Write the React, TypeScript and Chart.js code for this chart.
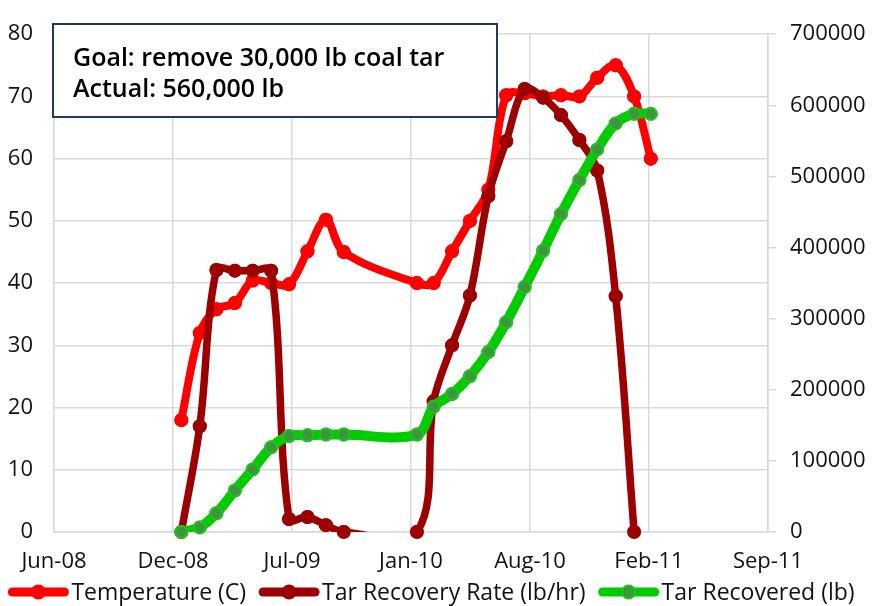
import { useEffect, useRef } from "react";
import { Chart, registerables } from "chart.js";

Chart.register(...registerables);

// x axis: days counted from 1 Jun 2008, major unit 200 days
const AXIS_START = Date.UTC(2008, 5, 1);
const DAY_MS = 86400000;
const dayOf = (iso: string) =>
  Math.round((Date.parse(iso + "T00:00:00Z") - AXIS_START) / DAY_MS);

const xTickLabels = ["Jun-08", "Dec-08", "Jul-09", "Jan-10", "Aug-10", "Feb-11", "Sep-11"];

const sampleDates = [
  "2009-01-01", "2009-02-01", "2009-03-01", "2009-04-01", "2009-05-01",
  "2009-06-01", "2009-07-01", "2009-08-01", "2009-09-01", "2009-10-01",
  "2010-02-01", "2010-03-01", "2010-04-01", "2010-05-01", "2010-06-01",
  "2010-07-01", "2010-08-01", "2010-09-01", "2010-10-01", "2010-11-01",
  "2010-12-01", "2011-01-01", "2011-02-01", "2011-03-01",
];

const temperatureC = [
  18, 32, 35.8, 36.8, 40.4, 40, 39.8, 45.1, 50.2, 45,
  40, 40, 45.1, 50, 55, 70.2, 70.5, 70, 70.2, 70,
  73, 75, 70, 60,
];

const tarRecoveryRate = [
  0, 17, 42.1, 42, 42, 42, 2.1, 2.4, 1.1, 0,
  0, 21, 30, 38, 54, 62.8, 71.2, 69.8, 67, 63,
  58.1, 37.9, 0, null,
];

const tarRecovered = [
  0, 6400, 26400, 58400, 88000, 119000, 135000, 136000, 137000, 137000,
  137000, 176000, 194000, 219000, 253000, 295000, 344500, 395500, 447000, 495000,
  538000, 574600, 588000, 588000,
];

const seriesLabels = ["Temperature (C)", "Tar Recovery Rate (lb/hr)", "Tar Recovered (lb)"];
const noteLines = ["Goal: remove 30,000 lb coal tar", "Actual: 560,000 lb"];

const FONT = "'Open Sans', 'Liberation Sans', sans-serif";
const GRID = "#d9d9d9";

const toPoints = (vals: (number | null)[]) =>
  sampleDates.map((d, i) => ({ x: dayOf(d), y: vals[i] }));

const pointRedraw = {
  id: "pointRedraw",
  afterDatasetDraw(chart: any, args: any) {
    const ctx = chart.ctx;
    args.meta.data.forEach((p: any) => p.draw(ctx));
  },
};

const noteBox = {
  id: "noteBox",
  afterDatasetsDraw(chart: any) {
    const ctx = chart.ctx;
    ctx.save();
    ctx.fillStyle = "#ffffff";
    ctx.fillRect(53, 24, 444, 93);
    ctx.strokeStyle = "#1f3a5f";
    ctx.lineWidth = 2;
    ctx.strokeRect(53, 24, 444, 93);
    ctx.fillStyle = "#000000";
    ctx.font = `600 25px ${FONT}`;
    ctx.textBaseline = "alphabetic";
    ctx.textAlign = "left";
    ctx.fillText(noteLines[0], 73, 66);
    ctx.fillText(noteLines[1], 73, 97);
    ctx.restore();
  },
};

const bottomLegend = {
  id: "bottomLegend",
  afterDraw(chart: any) {
    const ctx = chart.ctx;
    ctx.save();
    ctx.font = `23px ${FONT}`;
    const dss = chart.data.datasets;
    const markW = 62;
    const gapText = 2;
    const gapItem = 12;
    const widths = dss.map((ds: any) => markW + gapText + ctx.measureText(ds.label).width);
    const total = widths.reduce((a: number, b: number) => a + b, 0) + gapItem * (dss.length - 1);
    let x = 431 - total / 2;
    const y = 592;
    dss.forEach((ds: any, i: number) => {
      ctx.strokeStyle = ds.borderColor;
      ctx.lineWidth = 9;
      ctx.lineCap = "round";
      ctx.beginPath();
      ctx.moveTo(x + 5, y);
      ctx.lineTo(x + markW - 5, y);
      ctx.stroke();
      ctx.beginPath();
      ctx.arc(x + markW / 2, y, 6.5, 0, Math.PI * 2);
      ctx.fillStyle = ds.pointBackgroundColor;
      ctx.fill();
      ctx.lineWidth = 2;
      ctx.strokeStyle = ds.pointBorderColor;
      ctx.stroke();
      ctx.fillStyle = "#111111";
      ctx.textBaseline = "middle";
      ctx.textAlign = "left";
      ctx.fillText(ds.label, x + markW + gapText, y + 1);
      x += widths[i] + gapItem;
    });
    ctx.restore();
  },
};

export default function App() {
  const ref = useRef<HTMLCanvasElement | null>(null);

  useEffect(() => {
    if (!ref.current) return;
    const chart = new Chart(ref.current, {
      type: "line",
      data: {
        datasets: [
          {
            label: seriesLabels[0],
            data: toPoints(temperatureC),
            yAxisID: "y",
            borderColor: "#ff0000",
            backgroundColor: "#ff0000",
            pointBackgroundColor: "#ff0000",
            pointBorderColor: "#ff0000",
            borderWidth: 8,
            pointRadius: 6,
            pointBorderWidth: 2,
            tension: 0.35,
            order: 3,
          },
          {
            label: seriesLabels[1],
            data: toPoints(tarRecoveryRate),
            yAxisID: "y",
            borderColor: "#9c0000",
            backgroundColor: "#9c0000",
            pointBackgroundColor: "#9c0000",
            pointBorderColor: "#9c0000",
            borderWidth: 7.5,
            pointRadius: 6,
            pointBorderWidth: 2,
            tension: 0.35,
            order: 2,
          },
          {
            label: seriesLabels[2],
            data: toPoints(tarRecovered),
            yAxisID: "y1",
            borderColor: "#00cc00",
            backgroundColor: "#00cc00",
            pointBackgroundColor: "#3a983a",
            pointBorderColor: "#22c022",
            borderWidth: 10,
            pointRadius: 6,
            pointBorderWidth: 2,
            tension: 0.35,
            order: 1,
          },
        ],
      },
      options: {
        responsive: false,
        animation: false,
        devicePixelRatio: 1,
        layout: { padding: { top: 20, left: 0, right: 0, bottom: 0 } },
        elements: { line: { capBezierPoints: false } },
        plugins: {
          legend: { display: false },
          tooltip: { enabled: false },
        },
        scales: {
          x: {
            type: "linear",
            min: 0,
            max: 1200,
            ticks: {
              stepSize: 200,
              autoSkip: false,
              maxRotation: 0,
              padding: 17,
              color: "#111111",
              font: { family: FONT, size: 22 },
              callback: (v: any) => xTickLabels[Math.round(Number(v) / 200)] ?? "",
            },
            grid: { color: GRID, lineWidth: 1.5, drawTicks: false },
            border: { color: GRID, width: 1.5 },
            afterFit: (s: any) => {
              s.height = 74;
            },
          },
          y: {
            position: "left",
            min: 0,
            max: 80,
            ticks: {
              stepSize: 10,
              padding: 21,
              color: "#111111",
              font: { family: FONT, size: 22 },
            },
            grid: { color: GRID, lineWidth: 1.5, drawTicks: false },
            border: { color: GRID, width: 1.5 },
            afterFit: (s: any) => {
              s.width = 54;
            },
          },
          y1: {
            position: "right",
            min: 0,
            max: 700000,
            ticks: {
              stepSize: 100000,
              padding: 14,
              color: "#111111",
              font: { family: FONT, size: 22 },
              callback: (v: any) => String(v),
            },
            grid: { color: GRID, lineWidth: 1.5, drawOnChartArea: false, drawTicks: true, tickLength: 8 },
            border: { color: GRID, width: 1.5 },
            afterFit: (s: any) => {
              s.width = 104;
            },
          },
        },
      },
      plugins: [pointRedraw, noteBox, bottomLegend],
    } as any);
    return () => chart.destroy();
  }, []);

  return (
    <div style={{ position: "fixed", left: 0, top: 0, width: 872, height: 606, background: "#fff" }}>
      <canvas ref={ref} width={872} height={606} style={{ display: "block" }} />
    </div>
  );
}
